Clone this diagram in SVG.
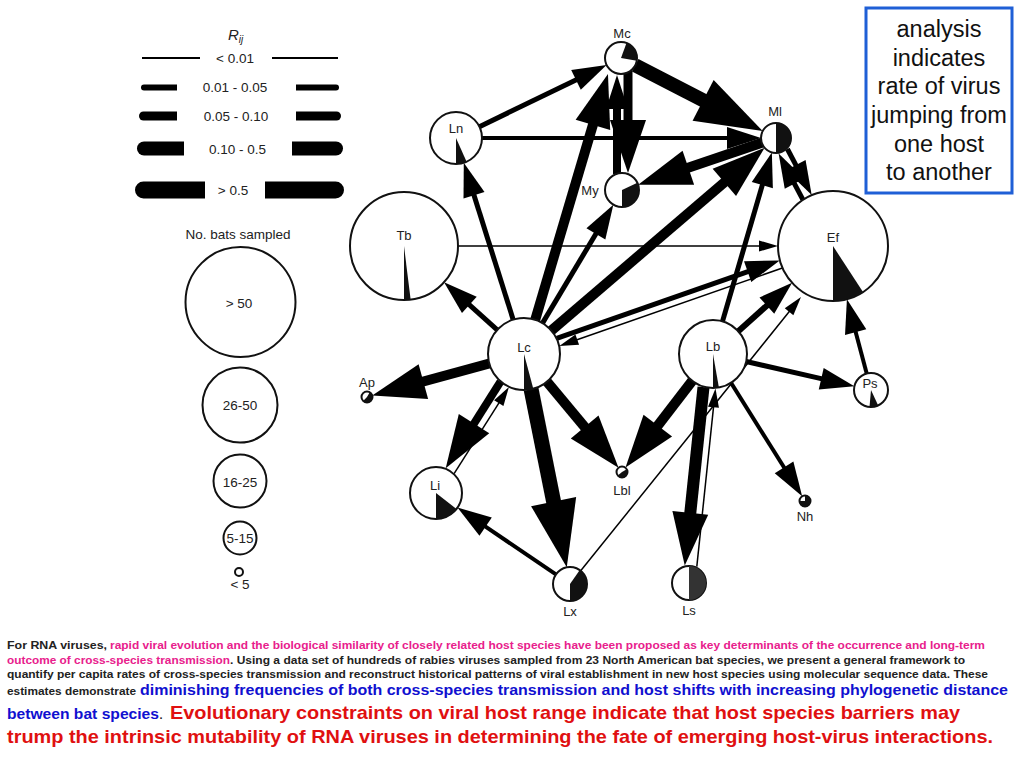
<svg xmlns="http://www.w3.org/2000/svg" width="1024" height="768" viewBox="0 0 1024 768">
<style>
text{font-family:"Liberation Sans",Arial,Helvetica,sans-serif}
.nc{fill:#fff;stroke:#111;stroke-width:2}
.wd{fill:#111}
.lbl{font-size:13px;fill:#222;text-anchor:middle}
.e{stroke:#000;fill:none;stroke-linecap:butt}
.a1{stroke-width:1.5;marker-end:url(#m1)}
.a2{marker-end:url(#m2)}
.a3{marker-end:url(#m3)}
.a4{marker-end:url(#m4)}
.lg{fill:#222;font-size:13.5px;text-anchor:middle}
.lc{fill:none;stroke:#111;stroke-width:2}
.bar{fill:#000}
.bx{font-size:23.5px;fill:#111;text-anchor:middle}
.bt{font-weight:bold;font-size:11px;fill:#222}
.mg{font-weight:bold;font-size:11px;fill:#e8208c}
.bl{font-weight:bold;font-size:15px;fill:#1010d0}
.rd{font-weight:bold;font-size:18.5px;fill:#e01010}
</style>
<defs>
<marker id="m1" viewBox="-2 -6 22 12" refX="0" refY="0" markerWidth="22" markerHeight="12" markerUnits="userSpaceOnUse" orient="auto" overflow="visible"><path d="M-1,-5.5 L18,0 L-1,5.5 Z"/></marker>
<marker id="m2" viewBox="-2 -12 37 24" refX="0" refY="0" markerWidth="37" markerHeight="24" markerUnits="userSpaceOnUse" orient="auto" overflow="visible"><path d="M-1,-11 L33,0 L-1,11 Z"/></marker>
<marker id="m3" viewBox="-2 -19 56 38" refX="0" refY="0" markerWidth="56" markerHeight="38" markerUnits="userSpaceOnUse" orient="auto" overflow="visible"><path d="M-1,-18 L52,0 L-1,18 Z"/></marker>
<marker id="m4" viewBox="-2 -24 70 48" refX="0" refY="0" markerWidth="70" markerHeight="48" markerUnits="userSpaceOnUse" orient="auto" overflow="visible"><path d="M-1,-23 L66,0 L-1,23 Z"/></marker>
</defs>
<rect width="1024" height="768" fill="#fff"/>

<!-- legend -->
<g id="legend">
<text x="228" y="40" font-size="15" font-style="italic" fill="#222">R<tspan font-size="10" dy="3">ij</tspan></text>
<line x1="142" y1="58" x2="200" y2="58" stroke="#000" stroke-width="2"/>
<line x1="272" y1="58" x2="338" y2="58" stroke="#000" stroke-width="2"/>
<text class="lg" x="235" y="62.5">&lt; 0.01</text>
<path class="bar" d="M177,84.5 H144 A3,3 0 0 0 144,90.5 H177 Z"/>
<path class="bar" d="M296,84.5 H336 A3,3 0 0 1 336,90.5 H296 Z"/>
<text class="lg" x="235" y="92">0.01 - 0.05</text>
<path class="bar" d="M177,111.5 H143.5 A4.5,4.5 0 0 0 143.5,120.5 H177 Z"/>
<path class="bar" d="M296,111.5 H336.5 A4.5,4.5 0 0 1 336.5,120.5 H296 Z"/>
<text class="lg" x="236" y="121">0.05 - 0.10</text>
<path class="bar" d="M184,141.5 H144 A7,7 0 0 0 144,155.5 H184 Z"/>
<path class="bar" d="M292,141.5 H336 A7,7 0 0 1 336,155.5 H292 Z"/>
<text class="lg" x="237.5" y="153.5">0.10 - 0.5</text>
<path class="bar" d="M205,181.5 H143.5 A8.5,8.5 0 0 0 143.5,198.5 H205 Z"/>
<path class="bar" d="M265,181.5 H335.5 A8.5,8.5 0 0 1 335.5,198.5 H265 Z"/>
<text class="lg" x="233" y="195">&gt; 0.5</text>
<text class="lg" x="238" y="239" font-size="14">No. bats sampled</text>
<circle class="lc" cx="240.5" cy="302" r="55"/>
<text class="lg" x="239" y="308" font-size="14">&gt; 50</text>
<circle class="lc" cx="240" cy="405" r="37.5"/>
<text class="lg" x="240" y="410" font-size="14">26-50</text>
<circle class="lc" cx="240" cy="481" r="26.5"/>
<text class="lg" x="240" y="486.5" font-size="14">16-25</text>
<circle class="lc" cx="240" cy="538" r="16.5"/>
<text class="lg" x="240" y="543" font-size="14">5-15</text>
<circle class="lc" cx="239" cy="572" r="4"/>
<text class="lg" x="240" y="589" font-size="14">&lt; 5</text>
</g>

<!-- connectors -->
<g id="connectors">
<line class="e a2" stroke-width="5" x1="497.2" y1="329.9" x2="468.6" y2="304.2"/>
<line class="e a2" stroke-width="5" x1="513.2" y1="319.7" x2="473.7" y2="194.3"/>
<line class="e a3" stroke-width="10" x1="535.2" y1="319.8" x2="593.2" y2="123.9"/>
<line class="e a2" stroke-width="5" x1="542.5" y1="323.1" x2="596.4" y2="233"/>
<line class="e a3" stroke-width="10" x1="551.3" y1="330.6" x2="725.1" y2="181.7"/>
<line class="e a2" stroke-width="5" x1="556.7" y1="338.3" x2="748.6" y2="271.3"/>
<line class="e a1" x1="782.4" y1="268" x2="576.3" y2="340"/>
<line class="e a3" stroke-width="10" x1="489.3" y1="363.5" x2="422.4" y2="381.8"/>
<line class="e a3" stroke-width="8" x1="500.5" y1="381.7" x2="473.5" y2="424.4"/>
<line class="e a1" x1="454.1" y1="473.7" x2="499.3" y2="402.3"/>
<line class="e a4" stroke-width="15" x1="531.1" y1="389.3" x2="553.8" y2="502.6"/>
<line class="e a3" stroke-width="10" x1="547" y1="381.7" x2="585.3" y2="427.8"/>
<line class="e a3" stroke-width="10" x1="692.2" y1="380.9" x2="657.2" y2="426.4"/>
<line class="e a3" stroke-width="12" x1="703.5" y1="387.2" x2="690.2" y2="513.8"/>
<line class="e a1" x1="696.8" y1="566.7" x2="713.6" y2="406.3"/>
<line class="e a2" stroke-width="4" x1="731" y1="382.8" x2="784.6" y2="468.3"/>
<line class="e a2" stroke-width="5" x1="746.2" y1="361.5" x2="822.2" y2="378.9"/>
<line class="e a2" stroke-width="5" x1="722.5" y1="321.4" x2="762.6" y2="184.1"/>
<line class="e a2" stroke-width="6" x1="738.3" y1="331.3" x2="767.6" y2="304.9"/>
<line class="e a1" x1="580.7" y1="570.8" x2="789.7" y2="311"/>
<line class="e a2" stroke-width="4" x1="555.9" y1="574.4" x2="484.8" y2="526.1"/>
<line class="e a2" stroke-width="4" x1="866.7" y1="373.6" x2="855.4" y2="331.1"/>
<line class="e a2" stroke-width="5" x1="479.4" y1="126.7" x2="576.9" y2="79.4"/>
<line class="e a2" stroke-width="4" x1="482" y1="138" x2="728" y2="138"/>
<line class="e a1" x1="458" y1="246" x2="760" y2="246"/>
<line class="e a4" stroke-width="14" x1="635.2" y1="65.3" x2="704" y2="100.8"/>
<line class="e a3" stroke-width="9" x1="628" y1="70" x2="628" y2="121"/>
<line class="e a2" stroke-width="8" x1="617" y1="174" x2="617" y2="108"/>
<line class="e a3" stroke-width="10" x1="761.8" y1="142.8" x2="687.4" y2="168"/>
<line class="e a2" stroke-width="5" x1="787.4" y1="149" x2="796.3" y2="165.9"/>
<line class="e a2" stroke-width="5" x1="802.9" y1="199.7" x2="794" y2="182.8"/>
</g>

<!-- nodes -->
<g id="node-Mc"><circle class="nc" cx="621" cy="58" r="16"/><path class="wd" d="M621,58 L626.5,43 A16,16 0 0 1 636.8,60.8 Z"/><text class="lbl" x="622" y="38">Mc</text></g>
<g id="node-Ml"><circle class="nc" cx="776" cy="138" r="15"/><path class="wd" d="M776,138 L776,123 A15,15 0 0 1 776,153 Z"/><text class="lbl" x="775" y="116">Ml</text></g>
<g id="node-My"><circle class="nc" cx="622" cy="190" r="17"/><path class="wd" d="M622,190 L637.4,182.8 A17,17 0 0 1 622,207 Z"/><text class="lbl" x="590" y="195">My</text></g>
<g id="node-Ln"><circle class="nc" cx="456" cy="138" r="26"/><path class="wd" d="M456,138 L466.6,161.8 A26,26 0 0 1 456,164 Z"/><text class="lbl" x="456" y="133">Ln</text></g>
<g id="node-Tb"><circle class="nc" cx="404" cy="246" r="54"/><path class="wd" d="M404,246 L410.6,299.6 A54,54 0 0 1 404,300 Z"/><text class="lbl" x="404" y="240">Tb</text></g>
<g id="node-Ef"><circle class="nc" cx="833" cy="246" r="55"/><path class="wd" d="M833,246 L863,292.1 A55,55 0 0 1 833,301 Z"/><text class="lbl" x="833" y="242">Ef</text></g>
<g id="node-Lc"><circle class="nc" cx="524" cy="354" r="36"/><path class="wd" d="M524,354 L533.3,388.8 A36,36 0 0 1 524,390 Z"/><text class="lbl" x="524" y="352">Lc</text></g>
<g id="node-Lb"><circle class="nc" cx="713" cy="354" r="34"/><path class="wd" d="M713,354 L718.9,387.5 A34,34 0 0 1 713,388 Z"/><text class="lbl" x="713" y="351">Lb</text></g>
<g id="node-Ps"><circle class="nc" cx="871" cy="390" r="17"/><path class="wd" d="M871,390 L878.2,405.4 A17,17 0 0 1 869.5,406.9 Z"/><text class="lbl" x="870" y="388">Ps</text></g>
<g id="node-Ap"><circle class="nc" cx="367" cy="397" r="5.5"/><path class="wd" d="M367,397 L369.75,392.24 A5.5,5.5 0 1 1 363.11,400.89 Z"/><text class="lbl" x="367" y="387">Ap</text></g>
<g id="node-Li"><circle class="nc" cx="436" cy="493" r="26"/><path class="wd" d="M436,493 L456.5,509 A26,26 0 0 1 436,519 Z"/><text class="lbl" x="435" y="490">Li</text></g>
<g id="node-Lbl"><circle class="nc" cx="622" cy="472" r="5.5"/><path class="wd" d="M622,472 L626.76,469.25 A5.5,5.5 0 0 1 617.79,475.54 Z"/><text class="lbl" x="622" y="495">Lbl</text></g>
<g id="node-Nh"><circle class="nc" cx="805" cy="501" r="5.5"/><path class="wd" d="M805,501 L805,495.5 A5.5,5.5 0 1 1 799.5,501 Z"/><text class="lbl" x="805" y="521">Nh</text></g>
<g id="node-Lx"><circle class="nc" cx="570" cy="584" r="17"/><path class="wd" d="M570,584 L579.8,570.1 A17,17 0 0 1 570,601 Z"/><text class="lbl" x="570" y="616">Lx</text></g>
<g id="node-Ls"><circle class="nc" cx="689" cy="583" r="17"/><path d="M689,583 L689,566 A17,17 0 0 1 689,600 Z" fill="#333"/><text class="lbl" x="689" y="615">Ls</text></g>

<!-- note box -->
<g id="note">
<rect x="866" y="8" width="146" height="185" fill="#fff" stroke="#1f5fd6" stroke-width="3"/>
<text class="bx" x="939" y="37">analysis</text>
<text class="bx" x="939" y="65.7">indicates</text>
<text class="bx" x="939" y="94.3">rate of virus</text>
<text class="bx" x="939" y="123">jumping from</text>
<text class="bx" x="939" y="151.7">one host</text>
<text class="bx" x="939" y="180">to another</text>
</g>

<!-- caption -->
<g id="caption">
<text class="bt" x="7" y="649" textLength="100" lengthAdjust="spacingAndGlyphs">For RNA viruses,</text>
<text class="mg" x="110" y="649" textLength="875" lengthAdjust="spacingAndGlyphs">rapid viral evolution and the biological similarity of closely related host species have been proposed as key determinants of the occurrence and long-term</text>
<text class="mg" x="7" y="663.5" textLength="223" lengthAdjust="spacingAndGlyphs">outcome of cross-species transmission</text>
<text class="bt" x="230" y="663.5" textLength="735" lengthAdjust="spacingAndGlyphs">. Using a data set of hundreds of rabies viruses sampled from 23 North American bat species, we present a general framework to</text>
<text class="bt" x="7" y="678" textLength="981" lengthAdjust="spacingAndGlyphs">quantify per capita rates of cross-species transmission and reconstruct historical patterns of viral establishment in new host species using molecular sequence data. These</text>
<text class="bt" x="7" y="695" textLength="129" lengthAdjust="spacingAndGlyphs">estimates demonstrate</text>
<text class="bl" x="140" y="695" textLength="868" lengthAdjust="spacingAndGlyphs">diminishing frequencies of both cross-species transmission and host shifts with increasing phylogenetic distance</text>
<text class="bl" x="7" y="719" textLength="152" lengthAdjust="spacingAndGlyphs">between bat species</text>
<text class="bt" x="159.5" y="719">.</text>
<text class="rd" x="170" y="719" textLength="790" lengthAdjust="spacingAndGlyphs">Evolutionary constraints on viral host range indicate that host species barriers may</text>
<text class="rd" x="7" y="743" textLength="986" lengthAdjust="spacingAndGlyphs">trump the intrinsic mutability of RNA viruses in determining the fate of emerging host-virus interactions.</text>
</g>
</svg>
